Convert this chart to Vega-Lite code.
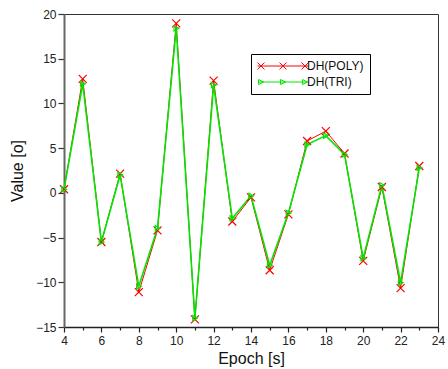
{
  "$schema": "https://vega.github.io/schema/vega-lite/v6.json",
  "width": 374,
  "height": 313,
  "autosize": {"type": "none"},
  "padding": {"left": 64, "top": 14, "right": 10, "bottom": 42},
  "background": "white",
  "config": {
    "font": "Liberation Sans",
    "view": {"stroke": "#333", "strokeWidth": 1},
    "axis": {"grid": false, "labelFont": "Liberation Sans", "titleFont": "Liberation Sans", "labelFontSize": 12, "titleFontSize": 16, "titleFontWeight": "normal", "labelColor": "#222", "titleColor": "#111"}
  },
  "data": {
    "values": [
      {"epoch": 4, "series": "DH(POLY)", "value": 0.4},
      {"epoch": 5, "series": "DH(POLY)", "value": 12.75},
      {"epoch": 6, "series": "DH(POLY)", "value": -5.5},
      {"epoch": 7, "series": "DH(POLY)", "value": 2.15},
      {"epoch": 8, "series": "DH(POLY)", "value": -11.1},
      {"epoch": 9, "series": "DH(POLY)", "value": -4.2},
      {"epoch": 10, "series": "DH(POLY)", "value": 18.95},
      {"epoch": 11, "series": "DH(POLY)", "value": -14.15},
      {"epoch": 12, "series": "DH(POLY)", "value": 12.55},
      {"epoch": 13, "series": "DH(POLY)", "value": -3.2},
      {"epoch": 14, "series": "DH(POLY)", "value": -0.5},
      {"epoch": 15, "series": "DH(POLY)", "value": -8.65},
      {"epoch": 16, "series": "DH(POLY)", "value": -2.4},
      {"epoch": 17, "series": "DH(POLY)", "value": 5.8},
      {"epoch": 18, "series": "DH(POLY)", "value": 6.9},
      {"epoch": 19, "series": "DH(POLY)", "value": 4.4},
      {"epoch": 20, "series": "DH(POLY)", "value": -7.6},
      {"epoch": 21, "series": "DH(POLY)", "value": 0.65},
      {"epoch": 22, "series": "DH(POLY)", "value": -10.65},
      {"epoch": 23, "series": "DH(POLY)", "value": 3.0},
      {"epoch": 4, "series": "DH(TRI)", "value": 0.4},
      {"epoch": 5, "series": "DH(TRI)", "value": 12.2},
      {"epoch": 6, "series": "DH(TRI)", "value": -5.5},
      {"epoch": 7, "series": "DH(TRI)", "value": 2.0},
      {"epoch": 8, "series": "DH(TRI)", "value": -10.45},
      {"epoch": 9, "series": "DH(TRI)", "value": -3.95},
      {"epoch": 10, "series": "DH(TRI)", "value": 18.4},
      {"epoch": 11, "series": "DH(TRI)", "value": -14.0},
      {"epoch": 12, "series": "DH(TRI)", "value": 12.05},
      {"epoch": 13, "series": "DH(TRI)", "value": -2.85},
      {"epoch": 14, "series": "DH(TRI)", "value": -0.35},
      {"epoch": 15, "series": "DH(TRI)", "value": -8.1},
      {"epoch": 16, "series": "DH(TRI)", "value": -2.25},
      {"epoch": 17, "series": "DH(TRI)", "value": 5.4},
      {"epoch": 18, "series": "DH(TRI)", "value": 6.4},
      {"epoch": 19, "series": "DH(TRI)", "value": 4.3},
      {"epoch": 20, "series": "DH(TRI)", "value": -7.3},
      {"epoch": 21, "series": "DH(TRI)", "value": 0.85},
      {"epoch": 22, "series": "DH(TRI)", "value": -10.05},
      {"epoch": 23, "series": "DH(TRI)", "value": 2.8}
    ]
  },
  "encoding": {
    "x": {
      "field": "epoch", "type": "quantitative",
      "scale": {"domain": [4, 24], "nice": false, "zero": false},
      "axis": {
        "title": "Epoch [s]",
        "values": [4, 6, 8, 10, 12, 14, 16, 18, 20, 22, 24],
        "tickSize": 5,
        "domainColor": "#222", "domainWidth": 1.5, "tickColor": "#222", "tickWidth": 1.2,
        "labelPadding": 3, "titlePadding": 4, "labelFlush": false
      }
    },
    "y": {
      "field": "value", "type": "quantitative",
      "scale": {"domain": [-15, 20], "nice": false, "zero": false},
      "axis": {
        "title": "Value [o]",
        "values": [-15, -10, -5, 0, 5, 10, 15, 20],
        "tickSize": 6, "domainColor": "#666", "domainWidth": 2, "tickColor": "#333", "tickWidth": 1.2,
        "labelPadding": 2, "titlePadding": 10
      }
    },
    "color": {
      "field": "series", "type": "nominal",
      "scale": {"domain": ["DH(POLY)", "DH(TRI)"], "range": ["#ff0000", "#00e600"]},
      "legend": {
        "title": null, "orient": "none", "legendX": 187, "legendY": 40,
        "fillColor": "white", "strokeColor": "black", "padding": 6,
        "labelFontSize": 12, "labelColor": "#111", "labelOffset": 38, "rowPadding": 4,
        "symbolSize": 100, "symbolStrokeWidth": 1, "symbolFillColor": "transparent",
        "symbolType": {"expr": "datum.value === 'DH(POLY)' ? 'M-1.1,0L9.1,0M-1.1,-0.7L0.3,0.7M-1.1,0.7L0.3,-0.7M3.3,-0.7L4.7,0.7M3.3,0.7L4.7,-0.7M7.7,-0.7L9.1,0.7M7.7,0.7L9.1,-0.7' : 'M-0.9,0L8.9,0M-0.9,-0.5L0.1,0L-0.9,0.5ZM3.5,-0.5L4.5,0L3.5,0.5ZM7.9,-0.5L8.9,0L7.9,0.5Z'"}
      }
    }
  },
  "layer": [
    {
      "transform": [{"filter": "datum.series === 'DH(POLY)'"}],
      "mark": {"type": "line", "strokeWidth": 1}
    },
    {
      "transform": [{"filter": "datum.series === 'DH(TRI)'"}],
      "mark": {"type": "line", "strokeWidth": 1.6},
      "encoding": {
        "x": {"field": "epoch", "type": "quantitative", "axis": null}
      }
    },
    {
      "transform": [{"filter": "datum.series === 'DH(POLY)'"}],
      "mark": {"type": "point", "filled": false, "size": 64, "strokeWidth": 1.2, "opacity": 1, "shape": "M-1,-1L1,1M-1,1L1,-1"},
      "encoding": {
        "x": {
          "field": "epoch", "type": "quantitative",
          "axis": {"values": [5, 7, 9, 11, 13, 15, 17, 19, 21, 23], "orient": "bottom", "labels": false, "domain": false, "title": null, "tickSize": 3, "tickColor": "#222", "tickWidth": 1.2}
        }
      }
    },
    {
      "transform": [{"filter": "datum.series === 'DH(TRI)'"}],
      "mark": {"type": "point", "filled": false, "size": 64, "strokeWidth": 1.2, "opacity": 1, "shape": "M-0.55,-0.65L0.65,0L-0.55,0.65Z"},
      "encoding": {
        "x": {"field": "epoch", "type": "quantitative", "axis": null}
      }
    }
  ],
  "resolve": {"axis": {"x": "independent"}}
}
